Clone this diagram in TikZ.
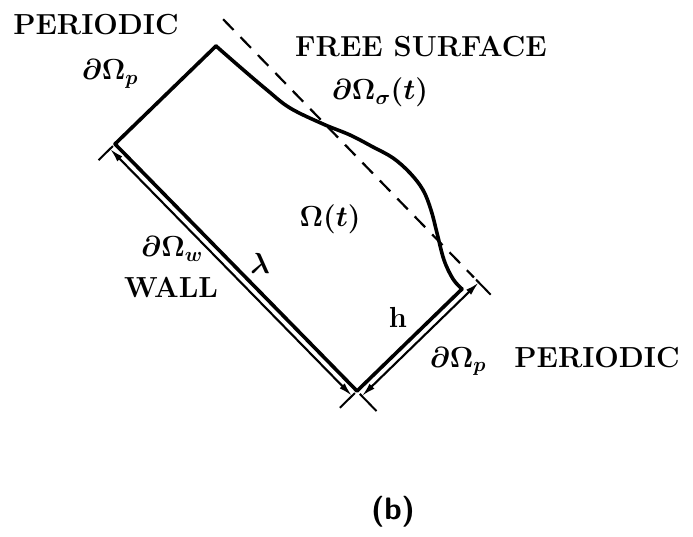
\RequirePackage{fix-cm}
\documentclass[tikz,border=0pt]{standalone}
\usepackage{amsmath,amssymb}
\usepackage{tikz}
\usetikzlibrary{calc,arrows.meta}

\begin{document}
\begin{tikzpicture}[x=1pt,y=-1pt,>={Latex[length=14pt,width=7pt]},
			edge/.style={line width=3.6pt,line join=round,line cap=round},
			dimline/.style={<->,line width=2.1pt},
			tick/.style={line width=2pt},
			meanline/.style={dash pattern=on 15pt off 10pt, line width=2.2pt},
			lbl/.style={font=\fontsize{29}{32}\selectfont\bfseries\boldmath,inner sep=0pt,anchor=base},
			caplbl/.style={font=\fontsize{31}{34}\selectfont\sffamily\bfseries,inner sep=0pt,anchor=base},
			]
			% 画布
			\useasboundingbox (0,0) rectangle (693,537);
			
			% 区域角点
			\coordinate (A) at (216,46);
			\coordinate (B) at (115,144);
			\coordinate (C) at (357,391);
			\coordinate (D) at (462,289);
			
			% 壁面与周期边界
			\draw[edge] (A)--(B)--(C)--(D);
			
			% 自由面
			\draw[edge] plot[smooth,tension=0.6] coordinates {(A) (240,67) (267,90) (290,108)
				(323,124) (350,135) (373,147) (393,158) (410,173) (423,190) (431,210)
				(437,233) (444,260) (453,279) (D)};
			
			% 平均水面（虚线）
			\coordinate (S2) at ($(C)!163pt!(D)$);
			\coordinate (S1) at ($(S2)!360pt!-90:(C)$);
			\draw[meanline] (S1)--(S2);
			
			% 尺寸 lambda
			\coordinate (Bw) at ($(B)!7pt!-90:(C)$);
			\coordinate (Cw) at ($(C)!7pt!90:(B)$);
			\draw[tick] ($(B)!3pt!-90:(C)$)--($(B)!23pt!-90:(C)$);
			\draw[tick] ($(C)!3pt!90:(B)$)--($(C)!24pt!90:(B)$);
			\draw[dimline] (Bw)--(Cw);
			
			% 尺寸 h
			\coordinate (Ch) at ($(C)!7pt!-90:(D)$);
			\coordinate (Sh) at ($(S2)!7pt!90:(C)$);
			\draw[tick] ($(C)!4pt!-90:(D)$)--($(C)!28pt!-90:(D)$);
			\draw[tick] ($(S2)!3pt!90:(C)$)--($(S2)!24pt!90:(C)$);
			\draw[dimline] (Ch)--(Sh);
			
			% 标注
			\node[lbl] (perTop) at (96,35) {PERIODIC};
			\node[lbl] (pTop) at (110,80) {$\partial\Omega_p$};
			\node[lbl] (free) at (421,57) {FREE SURFACE};
			\node[lbl] (freeSym) at (380,100) {$\partial\Omega_\sigma(t)$};
			\node[lbl] (dom) at (330,227) {$\Omega(t)$};
			\node[lbl] (wSym) at (172,257) {$\partial\Omega_w$};
			\node[lbl] (wall) at (171,298) {WALL};
			\node[lbl] (lam) at (260,273) {$\lambda$};
			\node[lbl] (hh) at (398,327) {h};
			\node[lbl] (pBot) at (458,367) {$\partial\Omega_p$};
			\node[lbl] (perBot) at (597,367) {PERIODIC};
			\node[caplbl] (cap) at (393,519) {(b)};
		\end{tikzpicture}
\end{document}
